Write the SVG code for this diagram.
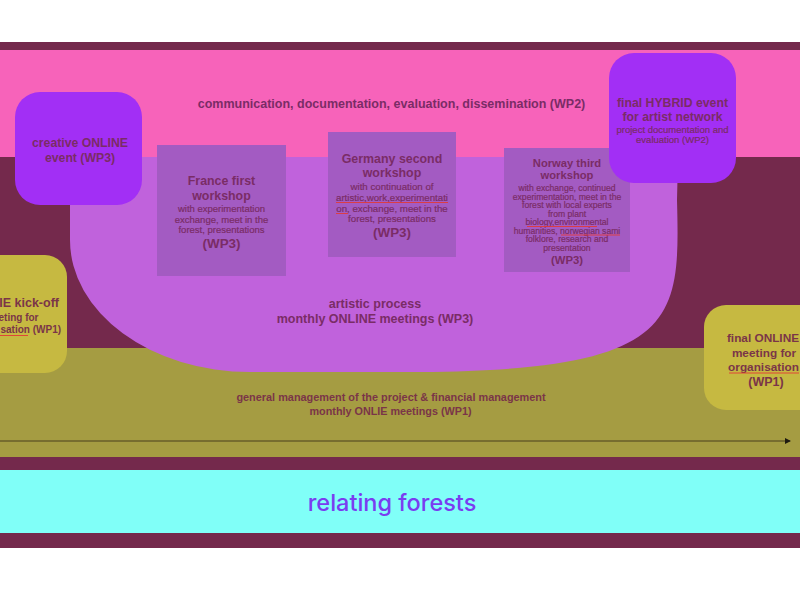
<svg xmlns="http://www.w3.org/2000/svg" width="800" height="600" viewBox="0 0 800 600">
<style>
.t{font-family:"Liberation Sans",Arial,sans-serif;fill:#7A2C66;text-anchor:middle}
.b{font-weight:bold}
.m{stroke:#7A2C66;stroke-width:0.2}
.o{fill:#7A3548}
.sq{stroke:#E23A35;stroke-width:0.9;fill:none}
.ws{fill:#A35BC2}
.ev{fill:#A22FF5}
.on{fill:#C6B941}
</style>
<defs>
<marker id="ah" viewBox="0 0 6 6" refX="5" refY="3" markerWidth="5" markerHeight="5" orient="auto">
<path d="M0,0 L6,3 L0,6 Z" fill="#1E1A10"/>
</marker>
</defs>
<rect x="0" y="0" width="800" height="600" fill="#FFFFFF"/>
<g id="bands">
<rect x="0" y="42" width="800" height="506" fill="#74294C"/>
<rect x="0" y="50" width="800" height="107" fill="#F763BA"/>
<rect x="0" y="348" width="800" height="109" fill="#A59C42"/>
<rect x="0" y="470" width="800" height="63" fill="#80FFF8"/>
</g>
<g id="artistic-process">
<path d="M70,157 L678,157 L677,200 C680,320 680,370 420,372 L250,372 A180,132 0 0 1 70,240 Z" fill="#C062DC"/>
<text class="t b" x="375" y="307.5" font-size="12.5">artistic process</text>
<text class="t b" x="375" y="322.5" font-size="12.5">monthly ONLINE meetings (WP3)</text>
</g>
<g id="communication">
<text class="t b" x="391.5" y="107.5" font-size="12.5">communication, documentation, evaluation, dissemination (WP2)</text>
</g>
<g id="management">
<text class="t b o" x="391" y="401" font-size="10.9">general management of the project &amp; financial management</text>
<text class="t b o" x="390.5" y="414.5" font-size="10.8">monthly ONLIE meetings (WP1)</text>
</g>
<g id="connectors">
<line x1="0" y1="441" x2="790" y2="441" stroke="#4A3E1C" stroke-width="1.2" marker-end="url(#ah)"/>
</g>
<g id="france-workshop">
<rect class="ws" x="157" y="145" width="129" height="131"/>
<text class="t b" x="221.5" y="184.5" font-size="12.4">France first</text>
<text class="t b" x="221.5" y="199.5" font-size="12.4">workshop</text>
<text class="t m" x="221.5" y="211.5" font-size="9.5">with experimentation</text>
<text class="t m" x="221.5" y="222.5" font-size="9.5">exchange, meet in the</text>
<text class="t m" x="221.5" y="232.5" font-size="9.5">forest, presentations</text>
<text class="t b" x="221.5" y="248" font-size="13.4">(WP3)</text>
</g>
<g id="germany-workshop">
<rect class="ws" x="328" y="132" width="128" height="125"/>
<text class="t b" x="392" y="163" font-size="12.4">Germany second</text>
<text class="t b" x="392" y="177" font-size="12.4">workshop</text>
<text class="t m" x="392" y="189.5" font-size="9.7">with continuation of</text>
<text class="t m" x="392" y="200.5" font-size="9.7">artistic,work,experimentati</text>
<text class="t m" x="392" y="211.5" font-size="9.7">on, exchange, meet in the</text>
<text class="t m" x="392" y="221.5" font-size="9.7">forest, presentations</text>
<text class="t b" x="392" y="237" font-size="13.4">(WP3)</text>
<path class="sq" d="M336,202.5 L448,202.5 M336,213.5 L348,213.5"/>
</g>
<g id="norway-workshop">
<rect class="ws" x="504" y="148" width="126" height="124"/>
<text class="t b" x="567" y="167" font-size="11.2">Norway third</text>
<text class="t b" x="567" y="178.5" font-size="11.2">workshop</text>
<text class="t m" x="567" y="191" font-size="8.6">with exchange, continued</text>
<text class="t m" x="567" y="199.5" font-size="8.6">experimentation, meet in the</text>
<text class="t m" x="567" y="208" font-size="8.6">forest with local experts</text>
<text class="t m" x="567" y="216.5" font-size="8.6">from plant</text>
<text class="t m" x="567" y="225" font-size="8.6">biology,environmental</text>
<text class="t m" x="567" y="233.5" font-size="8.6">humanities, norwegian sami</text>
<text class="t m" x="567" y="242" font-size="8.6">folklore, research and</text>
<text class="t m" x="567" y="250.5" font-size="8.6">presentation</text>
<text class="t b" x="567" y="264" font-size="11.3">(WP3)</text>
<path class="sq" d="M527,226.5 L597,226.5 M561,235 L620,235"/>
</g>
<g id="creative-online-event">
<rect class="ev" x="15" y="92" width="127" height="113" rx="25"/>
<text class="t b" x="80" y="147" font-size="12.25">creative ONLINE</text>
<text class="t b" x="80" y="161.5" font-size="12.25">event (WP3)</text>
</g>
<g id="final-hybrid-event">
<rect class="ev" x="609" y="53" width="127" height="130" rx="25"/>
<text class="t b" x="672.5" y="106.5" font-size="12.25">final HYBRID event</text>
<text class="t b" x="672.5" y="120.5" font-size="12.25">for artist network</text>
<text class="t m" x="672.5" y="132.5" font-size="9.5">project documentation and</text>
<text class="t m" x="672.5" y="142.5" font-size="9.5">evaluation (WP2)</text>
</g>
<g id="kick-off">
<rect class="on" x="-50" y="255" width="117" height="118" rx="22"/>
<text class="t b o" x="59" y="306.5" font-size="12.5" style="text-anchor:end">IE kick-off</text>
<text class="t b o" x="38.5" y="320.5" font-size="10" style="text-anchor:end">eting for</text>
<text class="t b o" x="0.5" y="333" font-size="10" style="text-anchor:start">sation (WP1)</text>
<path class="sq" d="M0,335.5 L28,335.5"/>
</g>
<g id="final-online-meeting">
<rect class="on" x="704" y="305" width="140" height="105" rx="22"/>
<text class="t b o" x="763" y="341.5" font-size="11.8">final ONLINE</text>
<text class="t b o" x="764" y="356.5" font-size="11.8">meeting for</text>
<text class="t b o" x="763.5" y="370.5" font-size="11.8">organisation</text>
<text class="t b o" x="766" y="386" font-size="12.5">(WP1)</text>
<path class="sq" d="M729,373 L799,373"/>
</g>
<g id="title">
<text x="392" y="511" font-family="Inter,'Liberation Sans',sans-serif" font-weight="500" font-size="23.5" fill="#7A3DF0" text-anchor="middle">relating forests</text>
</g>
</svg>
